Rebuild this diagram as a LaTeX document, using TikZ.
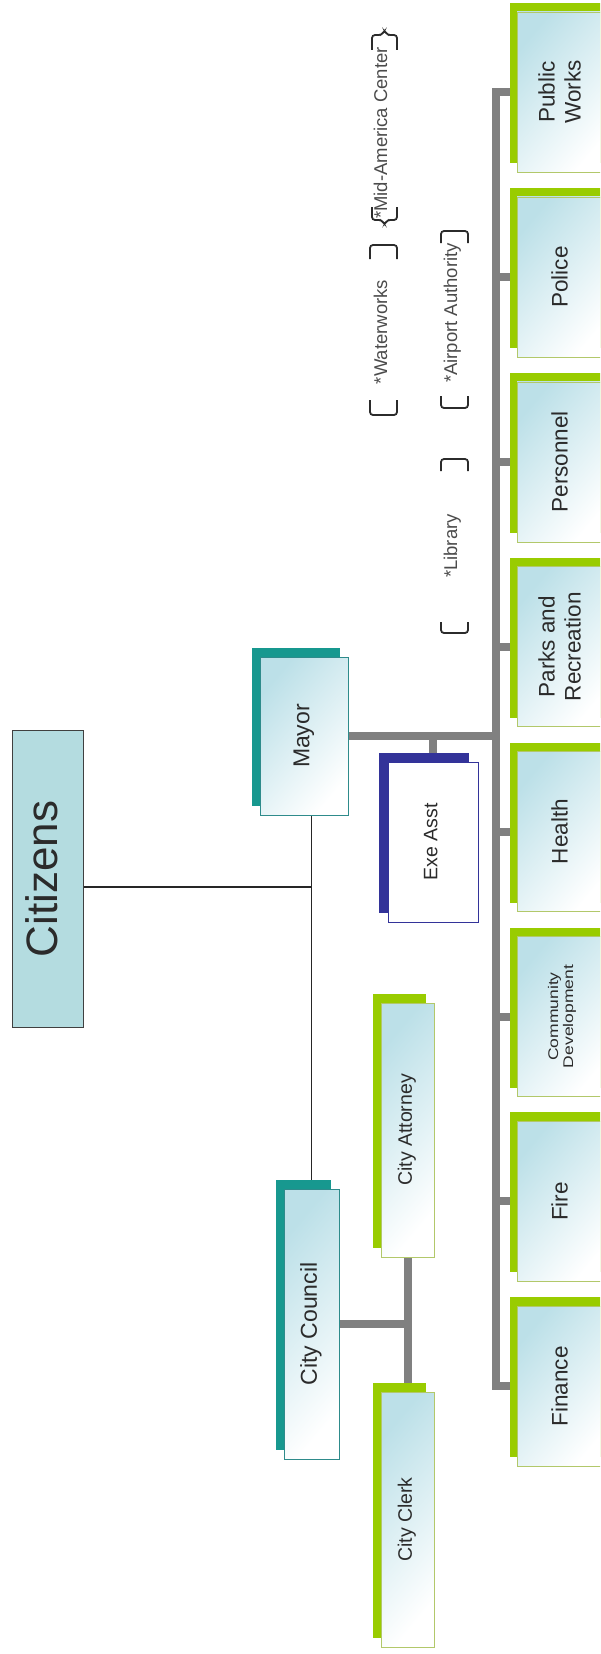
\documentclass[tikz,border=0pt]{standalone}
\usepackage{fontspec}
\setmainfont{Liberation Sans}
\usepackage{graphicx}
\usetikzlibrary{positioning,shadows,backgrounds}

\definecolor{leaf}{HTML}{99CC00}
\definecolor{leafline}{HTML}{B2C86A}
\definecolor{tealbar}{HTML}{17988F}
\definecolor{tealline}{HTML}{2E8B8B}
\definecolor{navybar}{HTML}{333399}
\definecolor{sky}{HTML}{BCE0E8}
\definecolor{citfill}{HTML}{B4DCE0}
\definecolor{busgray}{HTML}{808080}
\definecolor{ink}{HTML}{2B2B2B}

\newcommand{\turn}[1]{\rotatebox{90}{\begin{tabular}{@{}c@{}}#1\end{tabular}}}

\begin{document}
\begin{tikzpicture}[x=1pt,y=-1pt,
  node distance=24.3pt,
  box/.style={rectangle,inner sep=0pt,text=ink,left color=sky,right color=white,shading angle=50},
  dept/.style={box,draw=leafline,line width=0.6pt,minimum width=91pt,minimum height=160pt,
    general shadow={fill=leaf,shadow xshift=-7pt,shadow yshift=9pt},
    font=\fontsize{22.5}{26}\selectfont},
  head/.style={box,draw=tealline,line width=0.6pt,
    general shadow={fill=tealbar,shadow xshift=-8pt,shadow yshift=9pt},
    font=\fontsize{23}{27}\selectfont},
  aide/.style={box,draw=leafline,line width=0.6pt,minimum width=53pt,
    general shadow={fill=leaf,shadow xshift=-8pt,shadow yshift=9pt},
    font=\fontsize{19.5}{22}\selectfont},
  asst/.style={rectangle,inner sep=0pt,text=ink,fill=white,draw=navybar,line width=1pt,
    general shadow={fill=navybar,shadow xshift=-9pt,shadow yshift=9pt},
    font=\fontsize{19.5}{22}\selectfont},
  note/.style={inner sep=0pt,text=ink!85,font=\fontsize{18.5}{20}\selectfont},
  bus/.style={draw=busgray,line width=8pt},
  link/.style={draw=black!85,line width=1.3pt},
  brk/.style={draw=ink,line width=1.8pt,rounded corners=3pt}]
\useasboundingbox (0,0) rectangle (600,1654);
\clip (0,0) rectangle (600,1654);

\node[draw=black!75,fill=citfill,line width=1.8pt,inner sep=0pt,minimum width=71pt,minimum height=297pt,
  text=ink,font=\fontsize{44}{50}\selectfont] (cit) at (48,879) {\turn{Citizens}};

\node[head,minimum width=88pt,minimum height=158pt] (mayor) at (304,736) {\turn{Mayor}};
\node[asst,minimum width=90pt,minimum height=160pt] (exe) at (433,842) {\turn{Exe Asst}};
\node[head,minimum width=55pt,minimum height=270pt] (coun) at (311.5,1324) {\turn{City Council}};
\node[aide,minimum height=254pt] (att) at (407.5,1130) {\turn{City Attorney}};
\node[aide,minimum height=255pt] (clerk) at (407.5,1519.5) {\turn{City Clerk}};

\node[dept] (pw) at (562.5,92) {\turn{Public\\Works}};
\node[dept,below=of pw] (pol) {\turn{Police}};
\node[dept,below=of pol] (pers) {\turn{Personnel}};
\node[dept,below=of pers] (parks) {\turn{Parks and\\Recreation}};
\node[dept,below=of parks] (hlth) {\turn{Health}};
\node[dept,below=of hlth,font=\fontsize{14}{15}\selectfont] (cdev) {\scalebox{1}[1.25]{\turn{Community\\Development}}};
\node[dept,below=of cdev] (fire) {\turn{Fire}};
\node[dept,below=of fire] (fin) {\turn{Finance}};

% boards under the mayor
\node[note] (water) at (383,332) {\turn{*Waterworks}};
\node[note] (mid) at (383,133) {\turn{*Mid-America Center}};
\node[note] (lib) at (453,546) {\turn{*Library}};
\node[note] (air) at (453,313) {\turn{*Airport Authority}};

\draw[brk] (370,400) -- (370,415) -- (397,415) -- (397,400);
\draw[brk] (370,259) -- (370,245) -- (397,245) -- (397,259);
\draw[brk] (372,207) -- (372,220) -- (382,220) -- (384.5,225) -- (387,220) -- (397,220) -- (397,207);
\draw[brk] (372,50) -- (372,35) -- (382,35) -- (384.5,30) -- (387,35) -- (397,35) -- (397,50);
\draw[brk] (441,396) -- (441,408) -- (468,408) -- (468,396);
\draw[brk] (441,243) -- (441,231) -- (468,231) -- (468,243);
\draw[brk] (441,622) -- (441,633) -- (468,633) -- (468,622);
\draw[brk] (441,471) -- (441,459) -- (468,459) -- (468,471);

\coordinate (bus) at (495.5,0);
\begin{scope}[on background layer]
\draw[bus] (pw.west) -| (bus |- fin.west) -- (fin.west);
\draw[bus] (pol.west) -- (pol.west -| bus);
\draw[bus] (pers.west) -- (pers.west -| bus);
\draw[bus] (parks.west) -- (parks.west -| bus);
\draw[bus] (hlth.west) -- (hlth.west -| bus);
\draw[bus] (cdev.west) -- (cdev.west -| bus);
\draw[bus] (fire.west) -- (fire.west -| bus);
\draw[bus] (mayor.east) -- (mayor.east -| bus);
\draw[bus] (exe.north) -- (exe.north |- mayor.east);
\draw[bus] (coun.east) -- (coun.east -| att.south);
\draw[bus] (att.south) -- (clerk.north);
\draw[link] (mayor.south -| coun.north) -- (coun.north);
\draw[link] ([yshift=-8pt]cit.east) -- ([yshift=-8pt]cit.east -| coun.north);
\end{scope}
\end{tikzpicture}
\end{document}
